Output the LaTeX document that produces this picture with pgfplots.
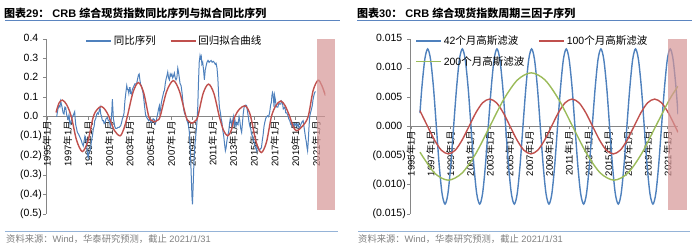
\documentclass[border=0pt]{standalone}
\usepackage{fontspec}
\setmainfont{Liberation Sans}
\newfontfamily\cjk{Noto Sans CJK SC}
\newcommand{\zh}[1]{{\cjk #1}}
\usepackage{pgfplots}
\pgfplotsset{compat=1.18}
\definecolor{sblue}{HTML}{4F81BD}
\definecolor{sred}{HTML}{C0504D}
\definecolor{sgreen}{HTML}{9BBB59}
\definecolor{axgray}{HTML}{868686}
\definecolor{titleline}{HTML}{5B85C0}
\definecolor{footline}{HTML}{95B3D7}
\definecolor{pinkbar}{HTML}{D69696}
\definecolor{srcgray}{HTML}{7F7F7F}
\pgfplotsset{
  panel/.style={
    scale only axis, height=175pt,
    axis x line*=middle, axis y line*=left,
    hide obscured x ticks=false, hide obscured y ticks=false,
    scaled y ticks=false, scaled x ticks=false,
    axis line style={draw=axgray, line width=0.8pt},
    tick style={draw=axgray, line width=0.8pt},
    tick align=outside, major tick length=3pt,
    xtick={1995,1997,1999,2001,2003,2005,2007,2009,2011,2013,2015,2017,2019,2021},
    xticklabels={1995\zh{年}1\zh{月},1997\zh{年}1\zh{月},1999\zh{年}1\zh{月},2001\zh{年}1\zh{月},2003\zh{年}1\zh{月},2005\zh{年}1\zh{月},2007\zh{年}1\zh{月},2009\zh{年}1\zh{月},2011\zh{年}1\zh{月},2013\zh{年}1\zh{月},2015\zh{年}1\zh{月},2017\zh{年}1\zh{月},2019\zh{年}1\zh{月},2021\zh{年}1\zh{月}},
    xticklabel style={rotate=90, anchor=east, font=\fontsize{9.5}{10}\selectfont, inner sep=1pt},
    yticklabel style={font=\fontsize{10.5}{12}\selectfont, inner sep=1pt},
    legend cell align=left,
    legend style={draw=none, fill=none, font=\fontsize{10.5}{12}\selectfont, anchor=north west, inner sep=0pt,
      /tikz/every even column/.append style={column sep=12pt}},
    legend image code/.code={\draw[#1,line width=1.5pt] (0pt,0pt) -- (25pt,0pt);},
  }
}
\begin{document}
\begin{tikzpicture}
\useasboundingbox (0,0) rectangle (699pt,248pt);
% ---------------- left panel ----------------
\begin{axis}[panel, at={(46pt,34pt)}, anchor=south west, width=279.5pt,
  xmin=1994.9, xmax=2021.9, ymin=-0.5, ymax=0.4,
  ytick={-0.5,-0.4,-0.3,-0.2,-0.1,0,0.1,0.2,0.3,0.4},
  yticklabels={(0.5),(0.4),(0.3),(0.2),(0.1),0.0\phantom{)},0.1\phantom{)},0.2\phantom{)},0.3\phantom{)},0.4\phantom{)}},
  legend columns=2,
  legend style={at={(0.14,1.03)}},
]
\addplot[sblue, line width=1pt] coordinates {
(1995.93,0.00) (1996.05,0.04) (1996.16,0.057) (1996.25,0.05) (1996.32,0.08) (1996.45,0.05) (1996.55,0.02) (1996.64,0.014) (1996.72,0.05) (1996.8,0.048) (1996.9,0.01)
(1997.03,-0.012) (1997.12,0.01) (1997.22,-0.04) (1997.35,-0.02) (1997.45,0.0) (1997.55,0.01) (1997.67,0.026) (1997.72,-0.01) (1997.77,-0.04) (1997.85,-0.06) (1997.93,-0.08)
(1998.05,-0.09) (1998.19,-0.107) (1998.3,-0.12) (1998.41,-0.14) (1998.5,-0.15) (1998.58,-0.125) (1998.66,-0.1) (1998.74,-0.11) (1998.82,-0.14) (1998.9,-0.19) (1998.98,-0.21)
(1999.06,-0.18) (1999.14,-0.175) (1999.22,-0.16) (1999.3,-0.12) (1999.38,-0.1) (1999.48,-0.06) (1999.55,-0.05) (1999.61,-0.02) (1999.7,-0.01) (1999.8,0.013) (1999.88,0.02) (1999.96,0.014)
(2000.04,0.03) (2000.12,0.048) (2000.2,0.01) (2000.25,0.005) (2000.35,-0.02) (2000.44,-0.02) (2000.52,-0.035) (2000.6,-0.03) (2000.7,-0.01) (2000.83,-0.004) (2000.92,-0.02) (2000.99,-0.02)
(2001.07,-0.035) (2001.15,-0.05) (2001.25,0.02) (2001.31,0.09) (2001.36,0.04) (2001.41,-0.01) (2001.48,-0.03) (2001.54,-0.05) (2001.63,-0.06) (2001.73,-0.06) (2001.85,-0.055) (2001.96,-0.055)
(2002.04,-0.05) (2002.12,-0.045) (2002.2,-0.03) (2002.28,-0.01) (2002.36,0.0) (2002.44,0.02) (2002.52,0.08) (2002.6,0.117) (2002.7,0.16) (2002.77,0.14) (2002.83,0.14) (2002.9,0.12) (2002.96,0.15)
(2003.02,0.15) (2003.08,0.12) (2003.16,0.117) (2003.24,0.14) (2003.32,0.15) (2003.41,0.16) (2003.5,0.17) (2003.57,0.168) (2003.65,0.17) (2003.73,0.19) (2003.83,0.215) (2003.9,0.22) (2003.97,0.19)
(2004.04,0.165) (2004.12,0.16) (2004.2,0.14) (2004.26,0.127) (2004.33,0.1) (2004.43,0.05) (2004.52,0.01) (2004.6,0.0) (2004.7,-0.01) (2004.82,-0.02) (2004.92,-0.01)
(2005.05,-0.03) (2005.15,-0.025) (2005.25,-0.01) (2005.37,-0.015) (2005.47,-0.035) (2005.55,-0.02) (2005.62,0.0) (2005.69,0.015) (2005.77,0.04) (2005.85,0.057) (2005.9,0.02) (2005.97,0.04)
(2006.04,0.07) (2006.11,0.09) (2006.2,0.11) (2006.28,0.13) (2006.34,0.134) (2006.42,0.17) (2006.5,0.194) (2006.58,0.21) (2006.66,0.23) (2006.74,0.2) (2006.82,0.19) (2006.9,0.22) (2006.98,0.21)
(2007.06,0.22) (2007.14,0.2) (2007.22,0.21) (2007.3,0.225) (2007.38,0.2) (2007.46,0.19) (2007.54,0.2) (2007.63,0.25) (2007.7,0.23) (2007.78,0.2) (2007.85,0.17) (2007.95,0.16)
(2008.05,0.12) (2008.12,0.08) (2008.2,0.04) (2008.27,0.02) (2008.35,0.01) (2008.43,0.0) (2008.52,-0.02) (2008.6,-0.03) (2008.68,-0.05) (2008.75,-0.08) (2008.85,-0.18) (2008.93,-0.3)
(2009.0,-0.41) (2009.05,-0.45) (2009.12,-0.35) (2009.2,-0.22) (2009.28,-0.15) (2009.38,-0.09) (2009.48,-0.03) (2009.56,0.05) (2009.62,0.16) (2009.7,0.28) (2009.78,0.315) (2009.84,0.3) (2009.9,0.31) (2009.96,0.27)
(2010.04,0.28) (2010.12,0.24) (2010.2,0.19) (2010.28,0.24) (2010.36,0.26) (2010.45,0.28) (2010.55,0.29) (2010.65,0.28) (2010.75,0.285) (2010.85,0.29) (2010.95,0.28)
(2011.05,0.285) (2011.15,0.28) (2011.25,0.27) (2011.33,0.275) (2011.42,0.25) (2011.5,0.2) (2011.58,0.11) (2011.65,0.05) (2011.75,0.02) (2011.82,-0.01) (2011.9,-0.03) (2011.98,-0.07)
(2012.07,-0.1) (2012.15,-0.14) (2012.23,-0.175) (2012.3,-0.16) (2012.36,-0.13) (2012.45,-0.1) (2012.55,-0.075) (2012.62,-0.04) (2012.7,-0.01) (2012.77,-0.02) (2012.85,-0.05) (2012.93,-0.02)
(2013.0,0.0) (2013.08,-0.04) (2013.16,-0.02) (2013.25,-0.05) (2013.35,-0.03) (2013.45,-0.04) (2013.55,0.0) (2013.62,-0.02) (2013.71,-0.06) (2013.8,-0.08) (2013.88,-0.03) (2013.96,0.02)
(2014.04,0.05) (2014.12,0.057) (2014.2,0.06) (2014.28,0.057) (2014.36,0.03) (2014.44,0.0) (2014.52,-0.03) (2014.6,-0.05) (2014.68,-0.064) (2014.76,-0.09) (2014.85,-0.1) (2014.92,-0.12)
(2015.0,-0.13) (2015.08,-0.15) (2015.16,-0.16) (2015.25,-0.175) (2015.33,-0.15) (2015.42,-0.16) (2015.5,-0.175) (2015.6,-0.165) (2015.71,-0.16) (2015.8,-0.12) (2015.88,-0.09) (2015.96,-0.05)
(2016.03,-0.03) (2016.12,-0.01) (2016.2,0.0) (2016.3,0.005) (2016.4,0.0) (2016.5,0.02) (2016.6,0.06) (2016.67,0.074) (2016.73,0.11) (2016.78,0.125) (2016.83,0.117) (2016.88,0.09) (2016.93,0.05) (2016.98,0.11)
(2017.05,0.09) (2017.12,0.06) (2017.2,0.05) (2017.3,0.05) (2017.4,0.07) (2017.5,0.065) (2017.58,0.065) (2017.66,0.08) (2017.75,0.07) (2017.82,0.04) (2017.9,0.045) (2017.98,0.05)
(2018.06,0.02) (2018.15,0.02) (2018.25,0.01) (2018.35,-0.01) (2018.45,-0.02) (2018.55,-0.04) (2018.65,-0.04) (2018.75,-0.05) (2018.85,-0.035) (2018.95,-0.045)
(2019.05,-0.035) (2019.15,-0.05) (2019.25,-0.035) (2019.35,-0.06) (2019.45,-0.05) (2019.55,-0.035) (2019.65,-0.025) (2019.74,-0.02) (2019.82,-0.05) (2019.9,-0.08) (2019.98,-0.11)
(2020.05,-0.13) (2020.12,-0.16) (2020.17,-0.175) (2020.23,-0.13) (2020.3,-0.06) (2020.37,0.0) (2020.45,0.02) (2020.55,0.04) (2020.63,0.06) (2020.7,0.09) (2020.78,0.11) (2020.86,0.125) (2020.93,0.13)
};
\addlegendentry{\zh{同比序列}}
\addplot[sred, line width=1.4pt, smooth] coordinates {
(1995.87,0.022) (1996.15,0.07) (1996.48,0.086) (1996.9,0.062) (1997.35,0.0) (1997.85,-0.12) (1998.41,-0.179) (1998.95,-0.125) (1999.47,0.0) (1999.85,0.038)
(2000.25,0.053) (2000.62,0.036) (2000.99,0.0) (2001.5,-0.07) (2002.05,-0.098) (2002.4,-0.065) (2002.75,0.0) (2003.3,0.125) (2003.82,0.176) (2004.33,0.125) (2004.83,0.0)
(2005.1,-0.018) (2005.37,-0.026) (2005.65,-0.018) (2005.92,0.0) (2006.55,0.13) (2007.2,0.186) (2007.8,0.13) (2008.43,0.0) (2008.7,-0.023) (2009.0,-0.033) (2009.28,-0.023) (2009.56,0.0)
(2010.08,0.12) (2010.6,0.168) (2011.12,0.12) (2011.65,0.0) (2012.05,-0.07) (2012.45,-0.098) (2012.8,-0.07) (2013.13,0.0) (2013.6,0.04) (2014.1,0.057) (2014.4,0.04) (2014.68,0.0)
(2015.2,-0.13) (2015.7,-0.184) (2016.2,-0.13) (2016.67,0.0) (2017.1,0.057) (2017.58,0.081) (2018.0,0.057) (2018.45,0.0) (2018.78,-0.05) (2019.1,-0.072) (2019.65,-0.05) (2020.22,0.0)
(2020.7,0.134) (2021.18,0.188) (2021.55,0.16) (2021.9,0.108)
};
\addlegendentry{\zh{回归拟合曲线}}
\end{axis}
% ---------------- right panel ----------------
\begin{axis}[panel, at={(410pt,34pt)}, anchor=south west, width=268pt,
  xmin=1994.9, xmax=2022.05, ymin=-0.015, ymax=0.015,
  ytick={-0.015,-0.01,-0.005,0,0.005,0.01,0.015},
  yticklabels={(0.015),(0.010),(0.005),0.000\phantom{)},0.005\phantom{)},0.010\phantom{)},0.015\phantom{)}},
  legend columns=2,
  legend style={at={(0.019,1.03)}, /tikz/every odd row/.append style={row sep=6pt}},
]
\addplot[sblue, line width=1.4pt, smooth] coordinates {
(1995.91,0.0023) (1996.10,0.00665) (1996.40,0.01152) (1996.69,0.0133) (1996.98,0.01152) (1997.28,0.00665) (1997.57,0) (1997.86,-0.00665) (1998.15,-0.01152) (1998.45,-0.0133) (1998.74,-0.01152) (1999.03,-0.00665) (1999.32,0) (1999.62,0.00665) (1999.91,0.01152)
(2000.20,0.0133) (2000.49,0.01152) (2000.79,0.00665) (2001.08,0) (2001.37,-0.00665) (2001.66,-0.01152) (2001.96,-0.0133) (2002.25,-0.01152) (2002.54,-0.00665) (2002.83,0) (2003.13,0.00665) (2003.42,0.01152)
(2003.71,0.0133) (2004.00,0.01152) (2004.30,0.00665) (2004.59,0) (2004.88,-0.00665) (2005.17,-0.01152) (2005.47,-0.0133) (2005.76,-0.01152) (2006.05,-0.00665) (2006.34,0) (2006.64,0.00665) (2006.93,0.01152)
(2007.22,0.0133) (2007.51,0.01152) (2007.81,0.00665) (2008.10,0) (2008.39,-0.00665) (2008.68,-0.01152) (2008.98,-0.0133) (2009.27,-0.01152) (2009.56,-0.00665) (2009.85,0) (2010.15,0.00665) (2010.44,0.01152)
(2010.73,0.0133) (2011.02,0.01152) (2011.32,0.00665) (2011.61,0) (2011.90,-0.00665) (2012.19,-0.01152) (2012.49,-0.0133) (2012.78,-0.01152) (2013.07,-0.00665) (2013.36,0) (2013.66,0.00665) (2013.95,0.01152)
(2014.24,0.0133) (2014.53,0.01152) (2014.83,0.00665) (2015.12,0) (2015.41,-0.00665) (2015.70,-0.01152) (2016.00,-0.0133) (2016.29,-0.01152) (2016.58,-0.00665) (2016.87,0) (2017.17,0.00665) (2017.46,0.01152)
(2017.75,0.0133) (2018.04,0.01152) (2018.34,0.00665) (2018.63,0) (2018.92,-0.00665) (2019.21,-0.01152) (2019.51,-0.0133) (2019.80,-0.01152) (2020.09,-0.00665) (2020.38,0) (2020.68,0.00665) (2020.97,0.01152)
(2021.26,0.0133) (2021.55,0.01152) (2021.85,0.00665) (2022.05,0.0021)
};
\addlegendentry{42\zh{个月高斯滤波}}
\addplot[sred, line width=1.4pt, smooth] coordinates {
(1995.91,0.0027) (1996.69,0) (1997.39,-0.00235) (1998.08,-0.00407) (1998.78,-0.0047) (1999.48,-0.00407) (2000.17,-0.00235) (2000.87,0) (2001.57,0.00235) (2002.26,0.00407) (2002.96,0.0047)
(2003.66,0.00407) (2004.35,0.00235) (2005.05,0) (2005.75,-0.00235) (2006.44,-0.00407) (2007.14,-0.0047) (2007.84,-0.00407) (2008.53,-0.00235) (2009.23,0) (2009.93,0.00235) (2010.62,0.00407)
(2011.32,0.0047) (2012.02,0.00407) (2012.71,0.00235) (2013.41,0) (2014.11,-0.00235) (2014.80,-0.00407) (2015.50,-0.0047) (2016.20,-0.00407) (2016.89,-0.00235) (2017.59,0) (2018.29,0.00235)
(2018.98,0.00407) (2019.68,0.0047) (2020.38,0.00407) (2021.07,0.00235) (2021.77,0) (2022.05,-0.001)
};
\addlegendentry{100\zh{个月高斯滤波}}
\addplot[sgreen, line width=1.4pt, smooth] coordinates {
(1995.91,-0.0044) (1997.38,-0.00797) (1998.78,-0.0092) (2000.18,-0.00797) (2001.58,-0.0046) (2002.98,0) (2004.38,0.0046) (2005.78,0.00797) (2007.18,0.0092) (2008.58,0.00797)
(2009.98,0.0046) (2011.38,0) (2012.78,-0.0046) (2014.18,-0.00797) (2015.58,-0.0092) (2016.98,-0.00797) (2018.38,-0.0046) (2019.78,0) (2021.18,0.0046) (2022.05,0.0069)
};
\addlegendentry{200\zh{个月高斯滤波}}
\end{axis}
% ---------------- decorations ----------------
\fill[pinkbar, opacity=0.7] (316.7pt,38pt) rectangle (335pt,208.7pt);
\fill[pinkbar, opacity=0.7] (667.5pt,38pt) rectangle (687pt,208.7pt);
\node[anchor=west, inner sep=0pt, font=\bfseries\fontsize{11}{13}\selectfont] at (4pt,234.7pt)
  {\zh{图表}29\zh{：} CRB \zh{综合现货指数同比序列与拟合同比序列}};
\node[anchor=west, inner sep=0pt, font=\bfseries\fontsize{11}{13}\selectfont] at (357pt,234.7pt)
  {\zh{图表}30\zh{：} CRB \zh{综合现货指数周期三因子序列}};
\draw[titleline, line width=1.1pt] (5pt,227.3pt) -- (340pt,227.3pt);
\draw[titleline, line width=1.1pt] (357pt,227.3pt) -- (692pt,227.3pt);
\draw[footline, line width=1.3pt] (5pt,16.3pt) -- (338pt,16.3pt);
\draw[footline, line width=1.3pt] (358pt,16.3pt) -- (690pt,16.3pt);
\node[anchor=west, inner sep=0pt, text=srcgray, font=\fontsize{9.3}{11}\selectfont] at (6pt,8.5pt)
  {\zh{资料来源：}Wind\zh{，华泰研究预测，截止} 2021/1/31};
\node[anchor=west, inner sep=0pt, text=srcgray, font=\fontsize{9.3}{11}\selectfont] at (358pt,8.5pt)
  {\zh{资料来源：}Wind\zh{，华泰研究预测，截止} 2021/1/31};
\end{tikzpicture}
\end{document}
